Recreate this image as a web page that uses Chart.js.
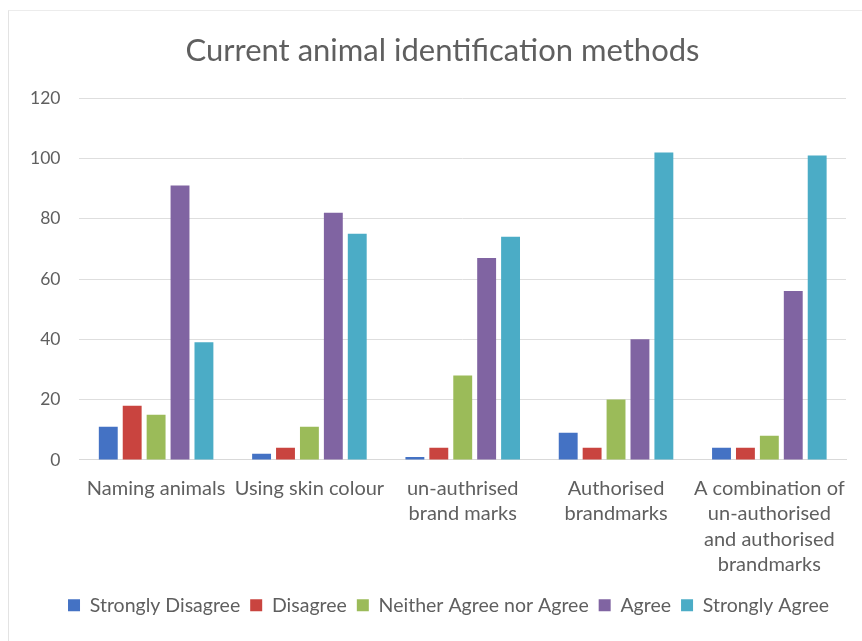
<!DOCTYPE html>
<html>
<head>
<meta charset="utf-8">
<script src="https://cdn.jsdelivr.net/npm/chart.js@4"></script>
<style>
  html, body { margin: 0; padding: 0; background: #fff; }
  #wrap { position: absolute; left: 8px; top: 10px; width: 854px; height: 631px; border-left: 1px solid #e3e3e3; border-top: 1px solid #ececec; box-sizing: border-box; }
  canvas { display: block; }
</style>
</head>
<body>
<div id="wrap"><canvas id="chart"></canvas></div>
<script>
const categories = [
  'Naming animals',
  'Using skin colour',
  ['un-authrised', 'brand marks'],
  ['Authorised', 'brandmarks'],
  ['A combination of', 'un-authorised', 'and authorised', 'brandmarks']
];
const strongDisagree = [11, 2, 1, 9, 4];
const disagree = [18, 4, 4, 4, 4];
const neither = [15, 11, 28, 20, 8];
const agree = [91, 82, 67, 40, 56];
const strongAgree = [39, 75, 74, 102, 101];

const textColor = '#5f5f5f';
const fontFamily = 'Lato, "Open Sans", sans-serif';

function series(label, data, color) {
  return {
    label: label,
    data: data,
    backgroundColor: color,
    borderWidth: 0,
    categoryPercentage: 0.78,
    barPercentage: 0.79
  };
}

// nudge title and legend so they sit centred over the plot rather than the canvas
const centreBlocks = {
  id: 'centreBlocks',
  afterLayout(chart) {
    const t = chart.titleBlock, l = chart.legend;
    if (t) { t.left += 14; t.right += 14; }
    if (l) { l.left += 20; l.right += 20; }
  }
};

const ctx = document.getElementById('chart').getContext('2d');
new Chart(ctx, {
  type: 'bar',
  data: {
    labels: categories,
    datasets: [
      series('Strongly Disagree', strongDisagree, '#4472C4'),
      series('Disagree', disagree, '#C9443F'),
      series('Neither Agree nor Agree', neither, '#9BBB59'),
      series('Agree', agree, '#8064A2'),
      series('Strongly Agree', strongAgree, '#4BACC6')
    ]
  },
  plugins: [centreBlocks],
  options: {
    responsive: true,
    maintainAspectRatio: false,
    animation: false,
    layout: { padding: { left: 2, right: 16, top: 10, bottom: 16 } },
    plugins: {
      title: {
        display: true,
        text: 'Current animal identification methods',
        color: textColor,
        font: { family: fontFamily, size: 31, weight: 'normal' },
        padding: { top: 11, bottom: 29 }
      },
      legend: {
        position: 'bottom',
        labels: {
          color: textColor,
          font: { family: fontFamily, size: 19.5 },
          boxWidth: 12,
          boxHeight: 12,
          padding: 10
        }
      },
      tooltip: { enabled: false }
    },
    scales: {
      x: {
        grid: { display: false },
        border: { display: true, color: '#d9d9d9' },
        ticks: {
          color: textColor,
          font: { family: fontFamily, size: 20, lineHeight: 1.27 },
          maxRotation: 0,
          autoSkip: false,
          padding: 8
        }
      },
      y: {
        min: 0,
        max: 120,
        grid: { color: '#dedede', drawTicks: false },
        border: { display: false },
        ticks: {
          stepSize: 20,
          color: textColor,
          font: { family: fontFamily, size: 17.5 },
          padding: 19
        }
      }
    }
  }
});
</script>
</body>
</html>
